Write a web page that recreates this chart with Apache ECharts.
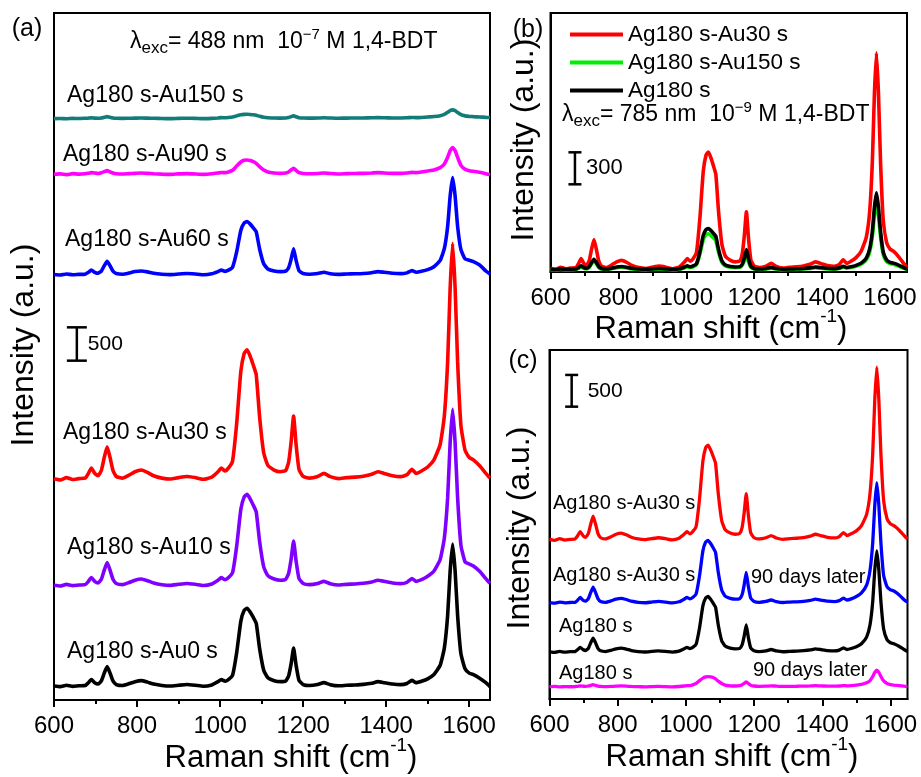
<!DOCTYPE html>
<html><head><meta charset="utf-8">
<script src="https://cdn.jsdelivr.net/npm/echarts@6/dist/echarts.min.js"></script>
<style>html,body{margin:0;padding:0;background:#fff}#chart{width:921px;height:777px}</style>
</head><body><div id="chart"></div>
<script>
// Raman shift axis (cm-1), shared by every spectrum
const ramanShift = [600,615,630,645,660,675,682,690,698,706,
 714,721,728,735,742,750,765,780,795,810,
 825,840,860,880,900,920,940,960,980,995,
 1003,1012,1020,1030,1040,1050,1058,1065,1072,1080,
 1087,1095,1105,1115,1130,1145,1158,1165,1171,1177,
 1183,1190,1200,1215,1235,1250,1265,1285,1305,1325,
 1345,1365,1380,1395,1415,1435,1450,1462,1472,1485,
 1500,1515,1530,1540,1548,1554,1560,1566,1572,1580,
 1590,1600,1610,1625,1640,1650];

// Panel (a), 488 nm, stacked spectra (a.u.)
const a_Au0 = [211,200,221,204,213,217,254,307,260,239,
 286,403,500,403,286,232,217,243,275,290,
 268,239,217,209,221,232,221,206,226,275,
 307,281,307,371,714,1184,1345,1377,1324,1238,
 1152,778,446,333,290,275,286,361,542,778,
 521,296,232,217,232,260,230,213,221,226,
 234,251,275,260,239,230,247,296,260,281,
 318,382,521,778,1270,1933,2340,1933,1270,692,
 468,403,382,328,260,200];
const a_Au10 = [1722,1710,1735,1715,1725,1730,1772,1835,1780,1755,
 1810,1947,2060,1947,1810,1747,1730,1760,1797,1815,
 1790,1755,1730,1720,1735,1747,1735,1717,1740,1797,
 1835,1805,1835,1910,2310,2860,3047,3085,3022,2922,
 2822,2385,1997,1865,1815,1797,1810,1897,2110,2385,
 2085,1822,1747,1730,1747,1780,1745,1725,1735,1740,
 1750,1770,1797,1780,1755,1745,1765,1822,1780,1805,
 1856,1935,2108,2426,3035,3857,4360,3857,3035,2320,
 2070,2040,2010,1930,1820,1750];
const a_Au30 = [3318,3300,3336,3307,3321,3328,3389,3478,3399,3364,
 3442,3637,3797,3637,3442,3353,3328,3371,3424,3449,
 3414,3364,3328,3314,3336,3353,3336,3311,3343,3424,
 3478,3435,3478,3584,4152,4933,5199,5253,5164,5022,
 4880,4259,3708,3520,3449,3424,3442,3566,3868,4259,
 3833,3460,3353,3328,3353,3399,3350,3321,3336,3343,
 3357,3385,3424,3399,3364,3350,3378,3460,3399,3435,
 3495,3602,3833,4259,5075,6176,6850,6176,5075,4117,
 3744,3637,3602,3513,3399,3328];
const a_Au60 = [6382,6375,6390,6378,6384,6387,6412,6448,6416,6401,
 6433,6514,6579,6514,6433,6397,6387,6404,6426,6436,
 6422,6401,6387,6381,6390,6397,6390,6379,6393,6426,
 6448,6430,6448,6492,6725,7047,7156,7178,7142,7083,
 7025,6769,6543,6466,6436,6426,6433,6485,6609,6769,
 6594,6441,6397,6387,6397,6416,6395,6384,6390,6393,
 6398,6410,6426,6416,6401,6395,6407,6441,6416,6430,
 6455,6499,6594,6769,7105,7558,7835,7558,7105,6755,
 6615,6595,6575,6525,6435,6390];
const a_Au90 = [7885,7892,7880,7895,7888,7893,7900,7910,7905,7898,
 7910,7925,7940,7922,7905,7895,7890,7895,7900,7905,
 7900,7893,7888,7885,7892,7896,7890,7885,7893,7905,
 7912,7910,7920,7945,8010,8070,8095,8100,8092,8075,
 8050,8000,7950,7920,7905,7900,7905,7920,7950,7975,
 7945,7910,7898,7893,7897,7905,7898,7890,7895,7898,
 7900,7905,7910,7905,7900,7900,7905,7915,7910,7920,
 7935,7950,7985,8040,8140,8240,8285,8240,8140,8020,
 7960,7940,7930,7915,7895,7880];
const a_Au150 = [8720,8722,8718,8725,8722,8726,8728,8732,8728,8726,
 8730,8740,8750,8740,8730,8726,8724,8726,8728,8730,
 8728,8726,8722,8720,8724,8726,8724,8720,8725,8730,
 8735,8734,8738,8745,8762,8778,8784,8786,8783,8778,
 8770,8755,8740,8733,8730,8728,8730,8737,8750,8762,
 8748,8735,8730,8728,8730,8733,8730,8727,8728,8730,
 8731,8733,8735,8733,8731,8731,8733,8738,8735,8738,
 8745,8752,8765,8785,8815,8842,8852,8840,8812,8780,
 8762,8755,8750,8745,8740,8737];

// Panel (b), 785 nm
const b_Au30 = [35,25,45,29,37,41,75,125,81,61,
 105,215,305,215,105,55,41,65,95,109,
 89,61,41,33,45,55,45,31,49,95,
 125,101,125,185,505,945,1095,1125,1075,995,
 915,565,255,149,109,95,105,175,345,565,
 325,115,55,41,55,81,53,37,45,49,
 57,73,95,81,61,53,69,115,81,101,
 135,195,325,565,1040,1670,2055,1670,1040,485,
 275,215,195,145,81,41];
const b_Au150 = [21,18,24,19,22,23,34,49,35,29,
 43,77,105,77,43,27,23,30,40,44,
 38,29,23,20,24,27,24,20,25,40,
 49,42,49,68,167,303,350,359,344,319,
 294,185,89,56,44,40,43,65,105,158,
 98,46,27,23,27,35,27,22,24,25,
 28,33,40,35,29,27,32,46,35,42,
 53,72,113,188,333,528,648,528,333,163,
 97,78,72,56,36,23];
const b_Ag180 = [26,22,29,23,26,28,40,57,42,35,
 50,89,120,89,50,33,28,36,47,51,
 44,35,28,25,29,33,29,24,30,47,
 57,49,57,78,190,344,397,407,390,362,
 334,211,103,65,51,47,50,75,134,211,
 127,54,33,28,33,42,32,26,29,30,
 33,39,47,42,35,32,37,54,42,49,
 62,83,130,216,382,605,742,605,382,188,
 112,90,83,65,42,28];

// Panel (c), stability (stacked)
const c_Au30 = [2514,2500,2527,2505,2516,2522,2568,2637,2576,2549,
 2609,2759,2882,2759,2609,2541,2522,2555,2596,2615,
 2587,2549,2522,2511,2527,2541,2527,2508,2533,2596,
 2637,2604,2637,2718,3155,3756,3961,4002,3933,3824,
 3715,3237,2814,2669,2615,2596,2609,2705,2937,3237,
 2910,2623,2541,2522,2541,2576,2538,2516,2527,2533,
 2544,2566,2596,2576,2549,2538,2560,2623,2576,2604,
 2650,2732,2910,3237,3865,4711,5230,4711,3865,3128,
 2841,2759,2732,2664,2576,2522];
const c_Au30_90d = [1519,1510,1528,1514,1521,1524,1555,1600,1560,1542,
 1582,1681,1762,1681,1582,1537,1524,1546,1573,1586,
 1568,1542,1524,1517,1528,1537,1528,1515,1532,1573,
 1600,1578,1600,1654,1942,2338,2473,2500,2455,2383,
 2311,1996,1717,1622,1586,1573,1582,1645,1798,1996,
 1780,1591,1537,1524,1537,1560,1535,1521,1528,1532,
 1539,1553,1573,1560,1542,1535,1550,1591,1560,1578,
 1615,1672,1795,2023,2460,3049,3410,3049,2460,1947,
 1768,1720,1702,1644,1563,1525];
const c_Ag180 = [743,735,751,738,745,748,775,815,780,764,
 799,887,959,887,799,759,748,767,791,802,
 786,764,748,741,751,759,751,740,754,791,
 815,796,815,863,1119,1471,1591,1615,1575,1511,
 1447,1167,919,834,802,791,799,855,991,1167,
 975,807,759,748,759,780,757,745,751,754,
 761,773,791,780,764,757,770,807,780,796,
 823,871,975,1167,1535,2031,2335,2031,1535,1103,
 935,887,871,831,780,748];
const c_Ag180_90d = [192,198,190,196,193,197,200,205,202,198,
 205,215,228,214,203,198,195,198,202,206,
 203,198,194,192,196,199,195,192,197,205,
 212,212,222,245,290,330,348,352,348,338,
 318,282,245,220,208,205,210,225,248,268,
 245,218,205,200,202,208,203,198,200,201,
 203,206,210,207,203,202,205,212,208,212,
 220,232,255,290,355,420,455,420,355,285,
 245,228,220,212,202,197];

// Axis ticks
const majorTicks = [600,800,1000,1200,1400,1600];
const minorTicks = [700,900,1100,1300,1500];
const xMin = 600, xMax = 1650;
const yMax = [10305, 2428, 5500];
// Scale bars: [x, y from, y to, label]
const scaleBarA = [655, 5090, 5590, '500'];
const scaleBarB = [672, 822, 1122, '300'];
const scaleBarC = [665, 4607, 5107, '500'];

const FONT = "'Liberation Sans', Arial, Helvetica, sans-serif";
const grids = [
  {left:54, top:13, width:436, height:687},
  {left:550.5, top:13, width:356.5, height:259},
  {left:549.5, top:350, width:358, height:349}
];

const pair = vals => ramanShift.map((x, i) => [x, vals[i]]);

const xAxes = [], yAxes = [];
grids.forEach((g, i) => {
  xAxes.push({gridIndex:i, type:'value', min:xMin, max:xMax, interval:200, position:'bottom',
    axisLine:{show:true, onZero:false, lineStyle:{color:'#000', width:2}},
    axisTick:{show:true, inside:false, length:7, lineStyle:{color:'#000', width:2}, customValues:majorTicks},
    axisLabel:{show:true, customValues:majorTicks, fontSize:24, color:'#000', fontFamily:FONT, margin:14,
      formatter: v => String(v)},
    splitLine:{show:false}});
  xAxes.push({gridIndex:i, type:'value', min:xMin, max:xMax, interval:100, position:'bottom',
    axisLine:{show:false, onZero:false},
    axisTick:{show:true, inside:false, length:4, lineStyle:{color:'#000', width:2}, customValues:minorTicks},
    axisLabel:{show:false}, splitLine:{show:false}});
  yAxes.push({gridIndex:i, type:'value', min:0, max:yMax[i],
    axisLine:{show:true, onZero:false, lineStyle:{color:'#000', width:2}},
    axisTick:{show:false}, axisLabel:{show:false}, splitLine:{show:false}});
});

function line(name, vals, color, gi, width) {
  return {name, type:'line', xAxisIndex:gi*2, yAxisIndex:gi, data:pair(vals),
    showSymbol:false, symbol:'none', smooth:0.15, lineStyle:{color, width:width||3.6},
    itemStyle:{color}, emphasis:{disabled:true}, animation:false};
}

function scaleBar(bar, gi, half, gap, fs) {
  return {type:'custom', xAxisIndex:gi*2, yAxisIndex:gi, data:[bar.slice(0,3)], animation:false, silent:true,
    renderItem:(params, api) => {
      const p0 = api.coord([api.value(0), api.value(1)]);
      const p1 = api.coord([api.value(0), api.value(2)]);
      const st = {stroke:'#000', lineWidth:2.5};
      return {type:'group', children:[
        {type:'line', shape:{x1:p0[0], y1:p0[1], x2:p1[0], y2:p1[1]}, style:st},
        {type:'line', shape:{x1:p0[0]-half, y1:p0[1], x2:p0[0]+half, y2:p0[1]}, style:st},
        {type:'line', shape:{x1:p1[0]-half, y1:p1[1], x2:p1[0]+half, y2:p1[1]}, style:st},
        {type:'text', x:p0[0]+gap, y:(p0[1]+p1[1])/2, style:{text:bar[3], fill:'#000',
          font:fs+'px '+FONT, align:'left', verticalAlign:'middle'}}
      ]};
    }};
}

const series = [
  line('a: Ag180 s-Au150 s', a_Au150, '#127c78', 0),
  line('a: Ag180 s-Au90 s', a_Au90, '#ff00ff', 0),
  line('a: Ag180 s-Au60 s', a_Au60, '#0000ff', 0),
  line('a: Ag180 s-Au30 s', a_Au30, '#ff0000', 0),
  line('a: Ag180 s-Au10 s', a_Au10, '#8000ff', 0),
  line('a: Ag180 s-Au0 s', a_Au0, '#000000', 0),
  line('Ag180 s-Au30 s', b_Au30, '#ff0000', 1),
  line('Ag180 s-Au150 s', b_Au150, '#00ee00', 1),
  line('Ag180 s', b_Ag180, '#000000', 1),
  line('c: Ag180 s-Au30 s', c_Au30, '#ff0000', 2, 3.3),
  line('c: Ag180 s-Au30 s 90 days later', c_Au30_90d, '#0000ff', 2, 3.3),
  line('c: Ag180 s', c_Ag180, '#000000', 2, 3.3),
  line('c: Ag180 s 90 days later', c_Ag180_90d, '#ff00ff', 2, 3.3),
  scaleBar(scaleBarA, 0, 10, 11, 21),
  scaleBar(scaleBarB, 1, 6.5, 11, 22),
  scaleBar(scaleBarC, 2, 6.5, 16, 21)
];

function txt(text, x, y, size, align) {
  return {type:'text', x, y, silent:true, style:{text, fill:'#000', font:size+'px '+FONT,
    align:align||'left', verticalAlign:'middle'}};
}
function rich(text, x, y, richStyles, align, rotation) {
  return {type:'text', x, y, rotation:rotation||0, silent:true,
    style:{text, fill:'#000', rich:richStyles, align:align||'left', verticalAlign:'middle', fontFamily:FONT}};
}
const titleRich = {
  n:{fontSize:31, fontFamily:FONT, lineHeight:44, verticalAlign:'middle', fill:'#000'},
  p:{fontSize:19, fontFamily:FONT, lineHeight:19, verticalAlign:'top', fill:'#000'}
};
const lamRich = {
  n:{fontSize:23, fontFamily:FONT, lineHeight:30, verticalAlign:'middle', fill:'#000'},
  s:{fontSize:17, fontFamily:FONT, lineHeight:12, verticalAlign:'bottom', fill:'#000'},
  p:{fontSize:15, fontFamily:FONT, lineHeight:14, verticalAlign:'top', fill:'#000'}
};
const yTitleRich = {n:{fontSize:32, fontFamily:FONT, fill:'#000'}};

const graphic = [
  txt('(a)', 27, 29, 25, 'center'),
  txt('(b)', 528, 30, 25, 'center'),
  txt('(c)', 523, 361, 25, 'center'),
  rich('{n|λ}{s|exc}{n|= 488 nm  10}{p|−7}{n| M 1,4-BDT}', 130, 42, lamRich),
  rich('{n|λ}{s|exc}{n|= 785 nm  10}{p|−9}{n| M 1,4-BDT}', 562, 115, lamRich),
  rich('{n|Raman shift (cm}{p|-1}{n|)}', 291, 758, titleRich, 'center'),
  rich('{n|Raman shift (cm}{p|-1}{n|)}', 721, 329, titleRich, 'center'),
  rich('{n|Raman shift (cm}{p|-1}{n|)}', 732, 757, titleRich, 'center'),
  rich('{n|Intensity (a.u.)}', 24, 345, yTitleRich, 'center', Math.PI/2),
  rich('{n|Intensity (a.u.)}', 524, 140, yTitleRich, 'center', Math.PI/2),
  rich('{n|Intensity (a.u.)}', 520, 528, yTitleRich, 'center', Math.PI/2),
  txt('Ag180 s-Au150 s', 67, 96, 23),
  txt('Ag180 s-Au90 s', 63, 155, 23),
  txt('Ag180 s-Au60 s', 65, 240, 23),
  txt('Ag180 s-Au30 s', 63, 433, 23),
  txt('Ag180 s-Au10 s', 67, 548, 23),
  txt('Ag180 s-Au0 s', 67, 652, 23),
  txt('Ag180 s-Au30 s', 553, 503, 20),
  txt('Ag180 s-Au30 s', 553, 575, 20),
  txt('90 days later', 751, 577, 20),
  txt('Ag180 s', 559, 626, 20),
  txt('Ag180 s', 559, 673, 20),
  txt('90 days later', 753, 670, 20)
];

const chart = echarts.init(document.getElementById('chart'), null, {renderer:'canvas'});
chart.setOption({
  animation:false,
  backgroundColor:'#fff',
  textStyle:{fontFamily:FONT},
  grid: grids.map(g => Object.assign({show:true, borderColor:'#000', borderWidth:2, backgroundColor:'transparent', containLabel:false}, g)),
  xAxis: xAxes,
  yAxis: yAxes,
  legend:{data:['Ag180 s-Au30 s','Ag180 s-Au150 s','Ag180 s'], orient:'vertical', left:565, top:18,
    icon:'rect', itemWidth:53, itemHeight:4, itemGap:5, selectedMode:false,
    textStyle:{fontSize:22.5, fontFamily:FONT, color:'#000'}},
  series,
  graphic
});
</script>
</body></html>
